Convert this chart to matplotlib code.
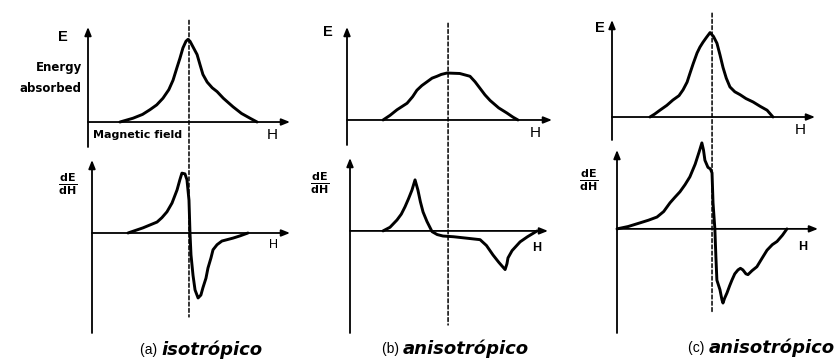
import matplotlib
matplotlib.use("Agg")
import matplotlib.pyplot as plt
from matplotlib.patches import ConnectionPatch

W, H = 837, 363
plt.rcParams['font.family'] = ['Liberation Sans', 'DejaVu Sans']

# field axis: 0 = ordinate, 100 = tip of the H arrow (arbitrary units)
# (a) isotropic line
a_abs_H = [15.8, 22.3, 27.0, 30.7, 34.0, 37.1, 40.0, 42.1, 44.0, 45.5, 47.0, 48.5, 49.5,
           50.5, 52.0, 54.0, 55.5, 56.9, 59.0, 61.5, 63.9, 67.0, 71.8, 76.0, 80.2, 83.7]
a_abs_E = [0, 4, 8, 13, 18, 25, 34, 44, 57, 67, 78, 85, 87, 85, 79, 71, 60, 50, 42, 36,
           32, 25, 16, 9, 4, 0]
a_der_H = [19.8, 27.2, 30.7, 34.2, 36.6, 39.1, 41.6, 44.1, 45.5, 46.5, 48.0, 49.0, 50.0,
           50.5, 51.0, 52.0, 53.0, 54.5, 55.9, 56.9, 58.4, 59.4, 60.9, 61.9, 63.9, 66.3,
           71.8, 75.2, 79.2]
a_der_S = [0, 7, 11, 15, 21, 29, 41, 59, 73, 82, 81, 73, 45, 0, -30, -58, -78, -89, -85,
           -75, -62, -48, -34, -23, -16, -11, -7, -4, 0]

# (b) anisotropic, broad powder line
b_abs_H = [17.6, 21.0, 24.4, 29.3, 32.0, 34.1, 36.5, 39.0, 41.5, 43.9, 46.0, 48.8, 55.0,
           60.0, 62.5, 64.9, 67.3, 69.8, 74.0, 78.0, 81.0, 83.4]
b_abs_E = [0, 5, 11, 18, 25, 32, 37, 41, 45, 47, 49, 50.5, 50, 47, 41, 34, 27, 21, 13,
           7.5, 3, 0]
b_der_H = [17.6, 21.0, 24.4, 26.5, 28.3, 30.0, 31.7, 33.2, 34.6, 35.8, 37.1, 39.0, 41.5,
           44.0, 46.8, 52.0, 58.5, 64.9, 68.0, 71.2, 74.0, 77.1, 78.0, 78.5, 80.5, 84.4,
           88.0, 92.7]
b_der_S = [0, 5, 15, 23, 33, 44, 56, 70, 56, 40, 26, 13, -1, -5, -7, -8, -10, -12, -20,
           -33, -43, -53, -45, -37, -27, -15, -8, 0]

# (c) anisotropic, asymmetric line
c_abs_H = [18.7, 21.0, 23.6, 27.0, 30.0, 33.0, 35.0, 37.0, 38.4, 40.0, 41.9, 43.3, 44.8,
           46.5, 48.3, 50.0, 51.7, 53.2, 54.7, 56.3, 58.1, 60.5, 63.1, 66.0, 69.5, 73.0,
           76.4, 79.3]
c_abs_E = [0, 3, 7, 12, 17.5, 22, 28, 36, 45, 55, 66, 72, 77, 82, 87, 83, 76, 64, 51, 40,
           31, 26, 23, 19, 15.5, 11, 7, 0]
c_der_H = [2.5, 8.0, 13.8, 18.0, 22.2, 25.5, 28.6, 31.0, 33.5, 36.0, 38.4, 41.0, 43.0,
           44.3, 45.1, 45.8, 47.3, 48.5, 49.3, 49.8, 50.7, 51.2, 51.7, 53.2, 54.2, 54.7,
           55.5, 56.7, 58.0, 59.1, 60.5, 62.1, 63.3, 64.5, 66.0, 67.0, 69.0, 71.4, 74.0,
           76.4, 79.0, 81.3, 84.0, 86.2]
c_der_S = [0, 3, 7.6, 11, 15, 22, 33, 40, 47, 56, 66, 82, 98, 109, 100, 87, 78, 76, 71,
           33, 0, -35, -65, -77, -90, -94, -88, -81, -72, -65, -57, -52, -50, -52, -57,
           -58, -53, -48, -37, -27, -20, -16, -8, 0]

res_H = [50, 49.3, 49.3]          # resonance field marked by the dashed line
captions = [('(a)', 'isotrópico'), ('(b)', 'anisotrópico'), ('(c)', 'anisotrópico')]

fig = plt.figure(figsize=(W / 100, H / 100), dpi=100)


def make_axes(left, top, right, bottom, xlim, ylim):
    ax = fig.add_axes([left / W, 1 - bottom / H, (right - left) / W, (bottom - top) / H])
    ax.set_xlim(*xlim)
    ax.set_ylim(*ylim)
    ax.axis('off')
    # ordinate with arrow on top, abscissa with arrow on the right
    arrow = dict(arrowstyle='-|>,head_length=0.5,head_width=0.2',
                 lw=1.3, color='black', shrinkA=0, shrinkB=0)
    ax.annotate('', xy=(xlim[0], 1), xytext=(xlim[0], 0),
                xycoords=('data', 'axes fraction'), arrowprops=arrow)
    ax.annotate('', xy=(1, 0), xytext=(0, 0), xycoords=('axes fraction', 'data'),
                arrowprops=arrow)
    return ax


# pixel boxes of each plot: (left, top, right, bottom)
top_boxes = [(88, 27, 290, 147), (347, 27, 552, 145), (612, 20, 815, 140)]
top_ylims = [(-26.3, 100), (-26.9, 100), (-23.7, 100)]
bot_boxes = [(92, 160, 290, 333), (350, 158, 548, 333), (617, 150, 818, 333)]
bot_xlims = [(2.0, 100), (1.5, 98), (2.5, 101.5)]
bot_ylims = [(-137, 100), (-140, 100), (-132, 100)]
dash_ends = [(107, -115), (104, -129), (107, -106)]

abs_data = [(a_abs_H, a_abs_E), (b_abs_H, b_abs_E), (c_abs_H, c_abs_E)]
der_data = [(a_der_H, a_der_S), (b_der_H, b_der_S), (c_der_H, c_der_S)]

for i in range(3):
    at = make_axes(*top_boxes[i], (0, 100), top_ylims[i])
    ab = make_axes(*bot_boxes[i], bot_xlims[i], bot_ylims[i])
    at.plot(*abs_data[i], color='black', lw=2.1, solid_joinstyle='round',
            solid_capstyle='round', clip_on=False)
    ab.plot(*der_data[i], color='black', lw=2.1, solid_joinstyle='round',
            solid_capstyle='round', clip_on=False)
    con = ConnectionPatch(xyA=(res_H[i], dash_ends[i][0]), coordsA='data', axesA=at,
                          xyB=(res_H[i], dash_ends[i][1]), coordsB='data', axesB=ab,
                          color='black', lw=1.1, linestyle=(0, (2.5, 1.6)))
    con.set_annotation_clip(False)
    fig.add_artist(con)


def px_text(x, y, s, **kw):
    fig.text(x / W, 1 - y / H, s, ha=kw.pop('ha', 'center'), va=kw.pop('va', 'center'), **kw)


# axis names
for x, y, s in [(63, 37, 'E'), (328, 32, 'E'), (600, 28, 'E')]:
    px_text(x, y, s, fontsize=10.5, fontweight='bold')
for x, y in [(272, 135), (535, 133), (800, 130)]:
    px_text(x, y, 'H', fontsize=11)
for x, y, wgt in [(273, 245, 'normal'), (537, 248, 'bold'), (803, 247, 'bold')]:
    px_text(x, y, 'H', fontsize=9, fontweight=wgt)
for x, y in [(68, 184), (320, 183), (589, 180)]:
    px_text(x, y, r'$\mathbf{\frac{dE}{dH}}$', fontsize=11.5)

px_text(82, 68, 'Energy', fontsize=8.5, fontweight='bold', ha='right', family='DejaVu Sans')
px_text(82, 88, 'absorbed', fontsize=8.5, fontweight='bold', ha='right', family='DejaVu Sans')
px_text(93, 135, 'Magnetic field', fontsize=8, fontweight='bold', ha='left', family='DejaVu Sans')

# captions
for (x, y), (tag, word) in zip([(140, 350), (382, 349), (688, 348)], captions):
    t = fig.text(x / W, 1 - y / H, tag + ' ', fontsize=10, va='center', ha='left')
    fig.canvas.draw()
    bb = t.get_window_extent()
    fig.text(bb.x1 / W, 1 - y / H, word, fontsize=13, va='center', ha='left',
             family='DejaVu Sans', fontweight='bold', style='italic')

fig.savefig('out.png', dpi=100, facecolor='white')
